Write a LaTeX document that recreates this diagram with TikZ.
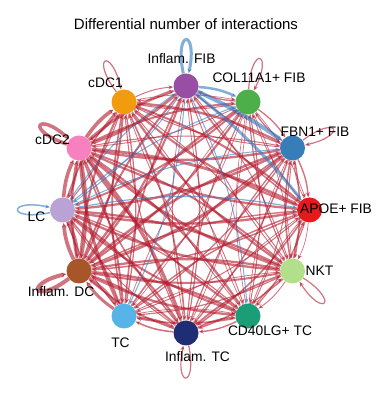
\documentclass[tikz,border=0pt]{standalone}
\usepackage{fontspec}
\setmainfont{Liberation Sans}
\usetikzlibrary{arrows.meta}

\definecolor{upred}{HTML}{B2182B}
\definecolor{downblue}{HTML}{2F78BE}
\definecolor{cfib}{HTML}{984EA3}
\definecolor{ccol}{HTML}{4DAF4A}
\definecolor{cfbn}{HTML}{377EB8}
\definecolor{capoe}{HTML}{E41A1C}
\definecolor{cnkt}{HTML}{B2DF8A}
\definecolor{ccd}{HTML}{1B9E77}
\definecolor{ctci}{HTML}{1F2D74}
\definecolor{ctc}{HTML}{56B4E9}
\definecolor{cdci}{HTML}{A65628}
\definecolor{clc}{HTML}{B8A3D4}
\definecolor{cdctwo}{HTML}{F781BF}
\definecolor{cdcone}{HTML}{F39B0F}

\pgfdeclarelayer{back}
\pgfsetlayers{back,main}

\tikzset{
  cell/.style={circle, minimum size=25pt, inner sep=0pt},
  up/.style={draw=upred, opacity=.6, -{Stealth[length=5pt,width=4pt]}},
  down/.style={draw=downblue, opacity=.6, -{Stealth[length=5pt,width=4pt]}},
  celltext/.style={font=\fontsize{13.8}{16}\selectfont, anchor=base},
}

\def\cells{fib/.9,col/.75,fbn/.95,apoe/.95,nkt/.9,cd/.85,tci/1.1,tc/1.0,dci/1.6,lc/1.35,dctwo/1.6,dcone/1.3}

\begin{document}
\begin{tikzpicture}[x=1pt, y=1pt]
  \useasboundingbox (0,0) rectangle (388,393);
  \node[font=\fontsize{15}{17}\selectfont, anchor=base] (title) at (186,363) {Differential number of interactions};

  % cell groups on the circle
  \node[cell, fill=cfib]   (fib)   at (186,307)   {};
  \node[cell, fill=ccol]   (col)   at (248,291)   {};
  \node[cell, fill=cfbn]   (fbn)   at (292.5,245) {};
  \node[cell, fill=capoe]  (apoe)  at (309.5,183) {};
  \node[cell, fill=cnkt]   (nkt)   at (292.5,122) {};
  \node[cell, fill=ccd]    (cd)    at (248,77)    {};
  \node[cell, fill=ctci]   (tci)   at (186,60)    {};
  \node[cell, fill=ctc]    (tc)    at (124,77)    {};
  \node[cell, fill=cdci]   (dci)   at (79,122)    {};
  \node[cell, fill=clc]    (lc)    at (62.5,183)  {};
  \node[cell, fill=cdctwo] (dctwo) at (79,245)    {};
  \node[cell, fill=cdcone] (dcone) at (124,291)   {};

  % decreased interactions
  \foreach \a/\b in {fib/col,fib/fbn,fib/apoe,fib/cd,fib/tc,fib/lc,lc/fbn,lc/apoe,lc/col,lc/fib}
    {\expandafter\gdef\csname down-\a-\b\endcsname{}}

  \begin{pgfonlayer}{back}
    \pgfmathsetseed{12}
    \foreach \a/\wa in \cells
      \foreach \b/\wb in \cells {
        \edef\tmpa{\a}\edef\tmpb{\b}
        \ifx\tmpa\tmpb\else
          \ifcsname down-\a-\b\endcsname\else
            \pgfmathsetmacro\lw{max(.7,\wa*\wb*(.6+1.4*rnd))}
            \draw[up, line width=\lw pt] (\a) to[bend left=10] (\b);
          \fi
        \fi
      }

    \draw[down, line width=2.5pt] (fib) to[bend left=10] (col);
    \draw[down, line width=4pt]   (fib) to[bend left=5]  (fbn);
    \draw[down, line width=3pt]   (fib) to[bend left=6]  (apoe);
    \draw[down, line width=1pt]   (fib) to[bend left=10] (cd);
    \draw[down, line width=1pt]   (fib) to[bend left=10] (tc);
    \draw[down, line width=1pt]   (fib) to[bend left=10] (lc);
    \draw[down, line width=1pt]   (lc)  to[bend left=10] (fbn);
    \draw[down, line width=1.2pt] (lc)  to[bend left=10] (apoe);
    \draw[down, line width=1pt]   (lc)  to[bend left=10] (col);
    \draw[down, line width=1pt]   (lc)  to[bend left=10] (fib);

    % self loops
    \draw[down, line width=3pt]   (fib.102) .. controls +(102:46) and +(78:46) .. (fib.78);
    \draw[down, line width=1.5pt] (lc.192) .. controls +(192:44) and +(168:44) .. (lc.168);
    \foreach \n/\o/\i/\w in {dcone/127/103/1.2, col/87/63/1.2, fbn/37/13/1.2,
        nkt/-33/-57/1.2, tci/-78/-102/1.2, dci/-143/-167/4, dctwo/162/138/3.5}
      \draw[up, line width=\w pt] (\n.\o) .. controls +(\o:44) and +(\i:44) .. (\n.\i);
  \end{pgfonlayer}

  % labels
  \node[celltext] (tfib)   at (181.5,329) {Inflam. FIB};
  \node[celltext] (tcol)   at (259,310)   {COL11A1+ FIB};
  \node[celltext] (tfbn)   at (315,256)   {FBN1+ FIB};
  \node[celltext] (tapoe)  at (336,179)   {APOE+ FIB};
  \node[celltext] (tnkt)   at (319.5,117) {NKT};
  \node[celltext] (tcd)    at (270,57)    {CD40LG+ TC};
  \node[celltext] (ttci)   at (197.5,31)  {Inflam. TC};
  \node[celltext] (ttc)    at (120.5,45)  {TC};
  \node[celltext] (tdci)   at (61,96)     {Inflam. DC};
  \node[celltext] (tlc)    at (36.5,171)  {LC};
  \node[celltext] (tdctwo) at (52.5,248)  {cDC2};
  \node[celltext] (tdcone) at (105.5,305) {cDC1};
\end{tikzpicture}
\end{document}
